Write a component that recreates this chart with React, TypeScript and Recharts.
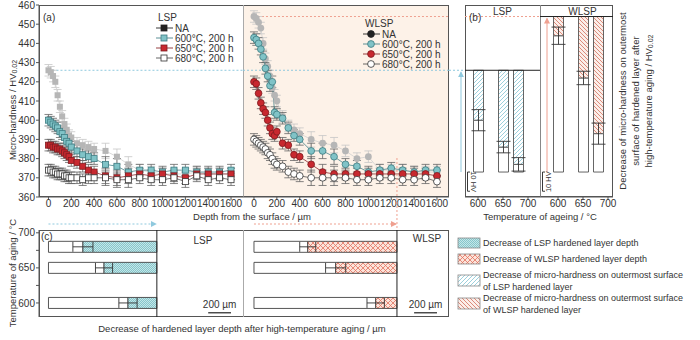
import React from "react";
import { ComposedChart, Line, Bar, XAxis, YAxis, ErrorBar, ReferenceLine } from "recharts";

// depths of the micro-hardness measurements (µm)
const DEPTHS = [0, 20, 40, 60, 80, 100, 120, 140, 160, 180, 200, 250, 300, 350, 400, 500, 600, 700, 800, 900, 1000, 1100, 1200, 1300, 1400, 1500, 1600];
const DEPTH_TICKS = [0, 200, 400, 600, 800, 1000, 1200, 1400, 1600];
const HV_TICKS = [360, 370, 380, 390, 400, 410, 420, 430, 440, 450, 460];

// panel (a) - LSP profiles (HV0.02)
const LSP_NA = [426, 425, 423, 420, 413, 407, 402, 398, 395, 392, 391, 388, 387, 386, 385, 384, 381, 377, 374, 373, 372, 372, 372, 373, 372, 372, 372];
const LSP_600 = [400, 399, 398, 397, 396, 394, 393, 391, 389, 388, 386, 384, 382, 381, 380, 377, 376, 373, 374, 374, 373, 374, 374, 373, 373, 373, 374];
const LSP_650 = [387, 387, 386, 386, 385, 385, 384, 383, 382, 381, 379, 378, 376, 374, 373, 371, 370, 371, 372, 371, 372, 371, 370, 372, 372, 372, 372];
const LSP_680 = [374, 374, 373, 373, 372, 372, 372, 371, 371, 370, 370, 370, 369, 370, 370, 370, 369, 369, 370, 369, 369, 370, 368, 371, 369, 370, 369];

// panel (a) - WLSP profiles
const WLSP_NA = [454, 453, 451, 448, 440, 432, 428, 423, 417, 413, 410, 402, 397, 395, 393, 390, 388, 387, 384, 380, 381, 374, 374, 374, 373, 373, 373];
const WLSP_600 = [443, 442, 440, 437, 433, 427, 423, 418, 420, 404, 403, 401, 396, 392, 390, 384, 384, 381, 377, 376, 373, 374, 375, 374, 373, 374, 374];
const WLSP_650 = [420, 419, 414, 409, 406, 404, 400, 396, 393, 392, 394, 388, 387, 382, 381, 377, 373, 372, 372, 372, 372, 372, 372, 372, 372, 372, 371];
const WLSP_680 = [390, 389, 388, 387, 386, 385, 383, 382, 380, 378, 377, 376, 373, 372, 371, 370, 370, 370, 370, 369, 369, 370, 370, 369, 369, 370, 368];
const HV_ERR = [3, 3, 3, 3, 3, 3, 3, 3, 3, 3, 3, 3, 3, 3, 3, 4, 4, 4, 3, 3, 3, 3, 3, 3, 3, 3, 3];

// panel (b) - surface hardness after ageing
const AGE_TEMPS = [600, 650, 680];
const BASE_HV = 373;
const LSP_SURF_AGED = [400, 386, 377];
const LSP_SURF_ERR = [5.5, 3, 3.5];
const WLSP_SURF_AGED = [444, 422, 393];
const WLSP_SURF_ERR = [4.5, 3.5, 5.5];

// panel (c) - hardened layer depth (µm)
const LSP_DEPTH_NA = 950;
const WLSP_DEPTH_NA = 1250;
const LSP_DEPTH_AGED = [697, 487, 302];
const LSP_DEPTH_ERR = [80, 75, 88];
const WLSP_DEPTH_AGED = [1064, 714, 470];
const WLSP_DEPTH_ERR = [76, 88, 70];

const FONT = '"Liberation Sans", Arial, sans-serif';
const INK = "#333";
const FRAME = "#555";
const A = { left: 39, mid: 243, right: 449, top: 5, bottom: 197 };
const B = { left: 465, mid: 540, right: 613 };
const C = { top: 230, bottom: 317, pad: 7 };
const LSP_DOMAIN = [-83, 1705];
const WLSP_DOMAIN = [-96, 1705];
const HV_DOMAIN = [360, 460];
const TEMP_DOMAIN = [580, 704];

const hvY = (v: number) => A.top + ((HV_DOMAIN[1] - v) * (A.bottom - A.top)) / (HV_DOMAIN[1] - HV_DOMAIN[0]);
const lspX = (d: number) => A.left + ((d - LSP_DOMAIN[0]) * (A.mid - A.left)) / (LSP_DOMAIN[1] - LSP_DOMAIN[0]);
const wlspX = (d: number) => A.mid + ((d - WLSP_DOMAIN[0]) * (A.right - A.mid)) / (WLSP_DOMAIN[1] - WLSP_DOMAIN[0]);
const tempY = (t: number) => C.top + ((TEMP_DOMAIN[1] - t) * (C.bottom - C.top)) / (TEMP_DOMAIN[1] - TEMP_DOMAIN[0]);

const SERIES = [
  { key: "na", label: "NA", fill: "#b6b6b6", stroke: "none", line: "#d0d0d0", err: "#c6c6c6", legend: "#222" },
  { key: "t600", label: "600°C, 200 h", fill: "#80c3c7", stroke: "#3d7c82", line: "#4a858a", err: "#666", legend: "#80c3c7" },
  { key: "t650", label: "650°C, 200 h", fill: "#c8282f", stroke: "#7d1c20", line: "#8a2a2e", err: "#666", legend: "#c8282f" },
  { key: "t680", label: "680°C, 200 h", fill: "#ffffff", stroke: "#333", line: "#555", err: "#666", legend: "#ffffff" },
];

const tickStyle = { fontSize: 10, fill: INK };

const marker = (shape: string, fill: string, stroke: string) => (p: any) => {
  const { cx, cy, index } = p;
  if (cx == null || cy == null) return <g key={index} />;
  return shape === "square" ? (
    <rect key={index} x={cx - 3} y={cy - 3} width={6} height={6} fill={fill} stroke={stroke} strokeWidth={0.8} />
  ) : (
    <circle key={index} cx={cx} cy={cy} r={3.4} fill={fill} stroke={stroke} strokeWidth={0.8} />
  );
};

function ProfileChart({ rows, domain, left, width, showY, shape, children }: any) {
  return (
    <div style={{ position: "absolute", left, top: 0 }}>
      <ComposedChart width={width} height={215} data={rows} margin={{ top: 5, right: 0, bottom: 0, left: 0 }}>
        <XAxis type="number" dataKey="depth" domain={domain} ticks={DEPTH_TICKS} interval={0} allowDataOverflow height={18}
          tickSize={3} tickMargin={0} tick={tickStyle} axisLine={{ stroke: FRAME }} tickLine={{ stroke: FRAME }} />
        <YAxis type="number" domain={HV_DOMAIN} ticks={HV_TICKS} interval={0} allowDataOverflow hide={!showY} width={showY ? 39 : 0}
          tickSize={3} tickMargin={1} tick={tickStyle} axisLine={{ stroke: FRAME }} tickLine={{ stroke: FRAME }} />
        {children}
        {SERIES.map((s) => (
          <Line key={s.key} dataKey={s.key} type="linear" stroke={s.line} strokeWidth={0.8} dot={marker(shape, s.fill, s.stroke)}
            activeDot={false} isAnimationActive={false}>
            <ErrorBar dataKey="err" width={4} stroke={s.err} strokeWidth={0.8} direction="y" isAnimationActive={false} />
          </Line>
        ))}
      </ComposedChart>
    </div>
  );
}

function SurfaceBars({ rows, left, width, domain, hatch, children }: any) {
  return (
    <div style={{ position: "absolute", left, top: 0 }}>
      <ComposedChart width={width + 12} height={215} data={rows} margin={{ top: 5, right: 12, bottom: 0, left: 0 }}>
        <XAxis type="number" dataKey="temp" domain={domain} ticks={[600, 650, 700]} interval={0} allowDataOverflow height={18}
          tickSize={3} tickMargin={0} tick={tickStyle} axisLine={{ stroke: FRAME }} tickLine={{ stroke: FRAME }} />
        <YAxis type="number" domain={HV_DOMAIN} allowDataOverflow hide />
        {children}
        <Bar dataKey="base" stackId="s" fill="transparent" barSize={10} isAnimationActive={false} />
        <Bar dataKey="remain" stackId="s" fill="#fff" stroke="#555" strokeWidth={0.9} barSize={10} isAnimationActive={false}>
          <ErrorBar dataKey="err" width={7} stroke="#333" strokeWidth={0.9} direction="y" isAnimationActive={false} />
        </Bar>
        <Bar dataKey="loss" stackId="s" fill={hatch} stroke="#555" strokeWidth={0.9} barSize={10} isAnimationActive={false} />
      </ComposedChart>
    </div>
  );
}

function DepthBars({ rows, left, width, domain, fill, naDepth, showY }: any) {
  return (
    <div style={{ position: "absolute", left, top: C.top - C.pad }}>
      <ComposedChart layout="vertical" width={width} height={C.bottom - C.top + 2 * C.pad} data={rows}
        margin={{ top: C.pad, right: 0, bottom: C.pad, left: 0 }}>
        <XAxis type="number" domain={domain} allowDataOverflow hide />
        <YAxis type="number" dataKey="temp" domain={TEMP_DOMAIN} ticks={[600, 625, 650, 675, 700]} interval={0} allowDataOverflow reversed
          hide={!showY} width={showY ? 39 : 0} tickFormatter={(v: number) => (v % 50 === 0 ? String(v) : "")}
          tickSize={3} tickMargin={1} tick={tickStyle} axisLine={{ stroke: FRAME }} tickLine={{ stroke: FRAME }} />
        <ReferenceLine x={naDepth} stroke="#222" strokeWidth={1} />
        <ReferenceLine segment={[{ x: 1400, y: 586 }, { x: 1600, y: 586 }]} stroke="#222" strokeWidth={1.2} />
        <Bar dataKey="remain" stackId="s" fill="#fff" stroke="#444" strokeWidth={0.9} barSize={11} isAnimationActive={false}>
          <ErrorBar dataKey="err" width={5} stroke="#333" strokeWidth={0.9} direction="x" isAnimationActive={false} />
        </Bar>
        <Bar dataKey="loss" stackId="s" fill={fill} stroke="#444" strokeWidth={0.9} barSize={11} isAnimationActive={false} />
      </ComposedChart>
    </div>
  );
}

const T = ({ x, y, size = 10, anchor = "start", rotate = 0, children }: any) => (
  <text x={x} y={y} fontSize={size} fill={INK} textAnchor={anchor} dominantBaseline="central"
    transform={rotate ? `rotate(${rotate} ${x} ${y})` : undefined}>
    {children}
  </text>
);

function ProfileLegend({ x, y, title, shape }: any) {
  return (
    <g>
      <T x={x + 2} y={y}>{title}</T>
      {SERIES.map((s, i) => {
        const ry = y + 11 + i * 10;
        const cx = x + 8;
        return (
          <g key={s.key}>
            <line x1={x} x2={x + 17} y1={ry} y2={ry} stroke={s.key === "na" ? "#222" : s.line} strokeWidth={0.9} />
            {shape === "square" ? (
              <rect x={cx - 3} y={ry - 3} width={6} height={6} fill={s.legend} stroke={s.key === "na" ? "#222" : s.stroke} strokeWidth={0.8} />
            ) : (
              <circle cx={cx} cy={ry} r={3.4} fill={s.legend} stroke={s.key === "na" ? "#222" : s.stroke} strokeWidth={0.8} />
            )}
            <T x={x + 19} y={ry}>{s.label}</T>
          </g>
        );
      })}
    </g>
  );
}

function Overlay() {
  const blue = "#8fc9de";
  const pink = "#efa090";
  const arrowY = 224;
  return (
    <svg width={700} height={340} style={{ position: "absolute", left: 0, top: 0, pointerEvents: "none" }}>
      <defs>
        <pattern id="hatchLspB" width="4" height="4" patternUnits="userSpaceOnUse">
          <rect width="4" height="4" fill="#fff" />
          <path d="M-1,1 L1,-1 M0,4 L4,0 M3,5 L5,3" stroke="#92cbd8" strokeWidth="0.9" />
        </pattern>
        <pattern id="hatchWlspB" width="4" height="4" patternUnits="userSpaceOnUse">
          <rect width="4" height="4" fill="#fbeee9" />
          <path d="M-1,3 L1,5 M0,0 L4,4 M3,-1 L5,1" stroke="#d8806e" strokeWidth="0.9" />
        </pattern>
        <pattern id="dotsLspC" width="2" height="2" patternUnits="userSpaceOnUse">
          <rect width="2" height="2" fill="#c4e6e8" />
          <rect width="1" height="1" fill="#86c6cb" />
          <rect x="1" y="1" width="1" height="1" fill="#86c6cb" />
        </pattern>
        <pattern id="crossWlspC" width="5" height="5" patternUnits="userSpaceOnUse">
          <rect width="5" height="5" fill="#fbe3da" />
          <path d="M0,0 L5,5 M5,0 L0,5" stroke="#e2725f" strokeWidth="0.8" />
        </pattern>
        <marker id="headBlue" markerWidth="6" markerHeight="6" refX="5" refY="3" orient="auto">
          <path d="M0,0 L6,3 L0,6 z" fill={blue} />
        </marker>
        <marker id="headPink" markerWidth="6" markerHeight="6" refX="5" refY="3" orient="auto">
          <path d="M0,0 L6,3 L0,6 z" fill={pink} />
        </marker>
      </defs>

      {/* connectors between panels */}
      <line x1={A.right} x2={B.left} y1={hvY(LSP_NA[0])} y2={hvY(LSP_NA[0])} stroke={blue} strokeDasharray="2 2" />
      <line x1={461} x2={461} y1={hvY(BASE_HV)} y2={hvY(LSP_NA[0]) + 2} stroke={blue} markerEnd="url(#headBlue)" />
      <line x1={547} x2={547} y1={hvY(BASE_HV)} y2={hvY(WLSP_NA[0]) + 2} stroke={pink} markerEnd="url(#headPink)" />
      <line x1={lspX(0)} x2={lspX(LSP_DEPTH_NA) - 1} y1={arrowY} y2={arrowY} stroke={blue} strokeDasharray="2 2" markerEnd="url(#headBlue)" />
      <line x1={wlspX(0)} x2={wlspX(WLSP_DEPTH_NA) - 1} y1={arrowY} y2={arrowY} stroke={pink} strokeDasharray="2 2" markerEnd="url(#headPink)" />
      <line x1={wlspX(WLSP_DEPTH_NA)} x2={wlspX(WLSP_DEPTH_NA)} y1={158} y2={C.top} stroke={pink} strokeDasharray="2 2" />

      {/* panel labels */}
      <T x={43} y={17}>(a)</T>
      <T x={469} y={17}>(b)</T>
      <T x={41} y={236}>(c)</T>
      <T x={(B.left + B.mid) / 2} y={11} anchor="middle">LSP</T>
      <T x={(B.mid + B.right) / 2 + 6} y={11} anchor="middle">WLSP</T>
      <T x={203} y={240} anchor="middle">LSP</T>
      <T x={427} y={238} anchor="middle">WLSP</T>

      <ProfileLegend x={156} y={17} title="LSP" shape="square" />
      <ProfileLegend x={363} y={23} title="WLSP" shape="circle" />

      {/* axis titles */}
      <T x={12} y={110} anchor="middle" rotate={-90} size={9.5}>
        Micro-hardness / HV<tspan fontSize={7} dy={2}>0.02</tspan>
      </T>
      <T x={252} y={216} anchor="middle" size={9.5}>Depth from the surface / µm</T>
      <T x={540} y={216} anchor="middle" size={9.5}>Temperature of ageing / °C</T>
      <T x={12} y={273} anchor="middle" rotate={-90} size={9.5}>Temperature of aging / °C</T>
      <T x={242} y={328} anchor="middle" size={9.5}>Decrease of hardened layer depth after high-temperature aging / µm</T>
      <T x={622} y={101} anchor="middle" rotate={-90} size={9.5}>Decrease of micro-hardness on outermost</T>
      <T x={635} y={101} anchor="middle" rotate={-90} size={9.5}>surface of hardened layer after</T>
      <T x={648} y={101} anchor="middle" rotate={-90} size={9.5}>
        high-temperature aging / HV<tspan fontSize={7} dy={2}>0.02</tspan>
      </T>

      {/* 10 HV scale brackets */}
      <path d={`M470,${hvY(BASE_HV)} H467.5 V${hvY(BASE_HV - 10)} H470`} fill="none" stroke="#222" strokeWidth={0.9} />
      <T x={473} y={(hvY(BASE_HV) + hvY(BASE_HV - 10)) / 2} anchor="middle" rotate={90} size={7.5}>10 HV</T>
      <path d={`M545,${hvY(BASE_HV)} H542.5 V${hvY(BASE_HV - 10)} H545`} fill="none" stroke="#222" strokeWidth={0.9} />
      <T x={549} y={(hvY(BASE_HV) + hvY(BASE_HV - 10)) / 2} anchor="middle" rotate={-90} size={7.5}>10 HV</T>

      {/* 200 µm scale labels */}
      <T x={(lspX(1400) + lspX(1600)) / 2} y={tempY(586) - 8} anchor="middle">200 µm</T>
      <T x={(wlspX(1400) + wlspX(1600)) / 2} y={tempY(586) - 8} anchor="middle">200 µm</T>

      {/* legend for bar patterns */}
      <rect x={458} y={238} width={22} height={10} fill="url(#dotsLspC)" stroke="#888" strokeWidth={0.8} />
      <T x={483} y={243} size={9}>Decrease of LSP hardened layer depth</T>
      <rect x={458} y={254} width={22} height={10} fill="url(#crossWlspC)" stroke="#888" strokeWidth={0.8} />
      <T x={483} y={259} size={9}>Decrease of WLSP hardened layer depth</T>
      <rect x={458} y={275} width={22} height={11} fill="url(#hatchLspB)" stroke="#888" strokeWidth={0.8} />
      <T x={483} y={275} size={9}>Decrease of micro-hardness on outermost surface</T>
      <T x={483} y={287} size={9}>of LSP hardened layer</T>
      <rect x={458} y={298} width={22} height={11} fill="url(#hatchWlspB)" stroke="#888" strokeWidth={0.8} />
      <T x={483} y={298} size={9}>Decrease of micro-hardness on outermost surface</T>
      <T x={483} y={310} size={9}>of WLSP hardened layer</T>
    </svg>
  );
}

export default function App() {
  const profileRows = (na: number[], a: number[], b: number[], c: number[]) =>
    DEPTHS.map((depth, i) => ({ depth, na: na[i], t600: a[i], t650: b[i], t680: c[i], err: HV_ERR[i] }));
  const lspRows = profileRows(LSP_NA, LSP_600, LSP_650, LSP_680);
  const wlspRows = profileRows(WLSP_NA, WLSP_600, WLSP_650, WLSP_680);

  const surfRows = (aged: number[], err: number[], na: number) =>
    AGE_TEMPS.map((temp, i) => ({ temp, base: BASE_HV, remain: aged[i] - BASE_HV, loss: na - aged[i], err: err[i] }));
  const depthRows = (aged: number[], err: number[], na: number) =>
    AGE_TEMPS.map((temp, i) => ({ temp, remain: aged[i], loss: na - aged[i], err: err[i] }));

  const box = (left: number, top: number, width: number, height: number, extra: any = {}) => (
    <div style={{ position: "absolute", left, top, width, height, boxSizing: "border-box", ...extra }} />
  );

  return (
    <div style={{ position: "absolute", left: 0, top: 0, width: 700, height: 340, background: "#fff", fontFamily: FONT, overflow: "hidden" }}>
      {box(A.mid, A.top, A.right - A.mid, A.bottom - A.top, { background: "#fdf2e8" })}
      {box(A.left, A.top, A.right - A.left, A.bottom - A.top, { border: `1px solid ${FRAME}` })}
      {box(A.mid - 0.5, A.top, 1, A.bottom - A.top, { background: "#aaa" })}
      {box(B.left, A.top, B.right - B.left, A.bottom - A.top, { border: `1px solid ${FRAME}` })}
      {box(B.mid - 0.5, A.top, 1, A.bottom - A.top, { background: "#888" })}
      {box(A.left, C.top, A.right - A.left, C.bottom - C.top, { border: `1px solid ${FRAME}` })}
      {box(A.mid - 0.5, C.top, 1, C.bottom - C.top, { background: "#aaa" })}

      <ProfileChart rows={lspRows} domain={LSP_DOMAIN} left={0} width={A.mid} showY shape="square">
        <ReferenceLine segment={[{ x: 0, y: LSP_NA[0] }, { x: LSP_DOMAIN[1], y: LSP_NA[0] }]} stroke="#8fc9de" strokeDasharray="2 2" />
      </ProfileChart>
      <ProfileChart rows={wlspRows} domain={WLSP_DOMAIN} left={A.mid} width={A.right - A.mid} showY={false} shape="circle">
        <ReferenceLine y={LSP_NA[0]} stroke="#8fc9de" strokeDasharray="2 2" />
        <ReferenceLine segment={[{ x: 0, y: WLSP_NA[0] }, { x: WLSP_DOMAIN[1], y: WLSP_NA[0] }]} stroke="#efa090" strokeDasharray="2 2" />
      </ProfileChart>

      <SurfaceBars rows={surfRows(LSP_SURF_AGED, LSP_SURF_ERR, LSP_NA[0])} left={B.left} width={B.mid - B.left} domain={[574, 724]} hatch="url(#hatchLspB)">
        <ReferenceLine y={WLSP_NA[0]} stroke="#efa090" strokeDasharray="2 2" />
        <ReferenceLine y={LSP_NA[0]} stroke="#222" strokeWidth={1} />
      </SurfaceBars>
      <SurfaceBars rows={surfRows(WLSP_SURF_AGED, WLSP_SURF_ERR, WLSP_NA[0])} left={B.mid} width={B.right - B.mid} domain={[564, 710]} hatch="url(#hatchWlspB)">
        <ReferenceLine y={WLSP_NA[0]} stroke="#222" strokeWidth={1} />
      </SurfaceBars>

      <DepthBars rows={depthRows(LSP_DEPTH_AGED, LSP_DEPTH_ERR, LSP_DEPTH_NA)} left={0} width={A.mid} domain={LSP_DOMAIN} fill="url(#dotsLspC)" naDepth={LSP_DEPTH_NA} showY />
      <DepthBars rows={depthRows(WLSP_DEPTH_AGED, WLSP_DEPTH_ERR, WLSP_DEPTH_NA)} left={A.mid} width={A.right - A.mid} domain={WLSP_DOMAIN} fill="url(#crossWlspC)" naDepth={WLSP_DEPTH_NA} showY={false} />

      <Overlay />
    </div>
  );
}
